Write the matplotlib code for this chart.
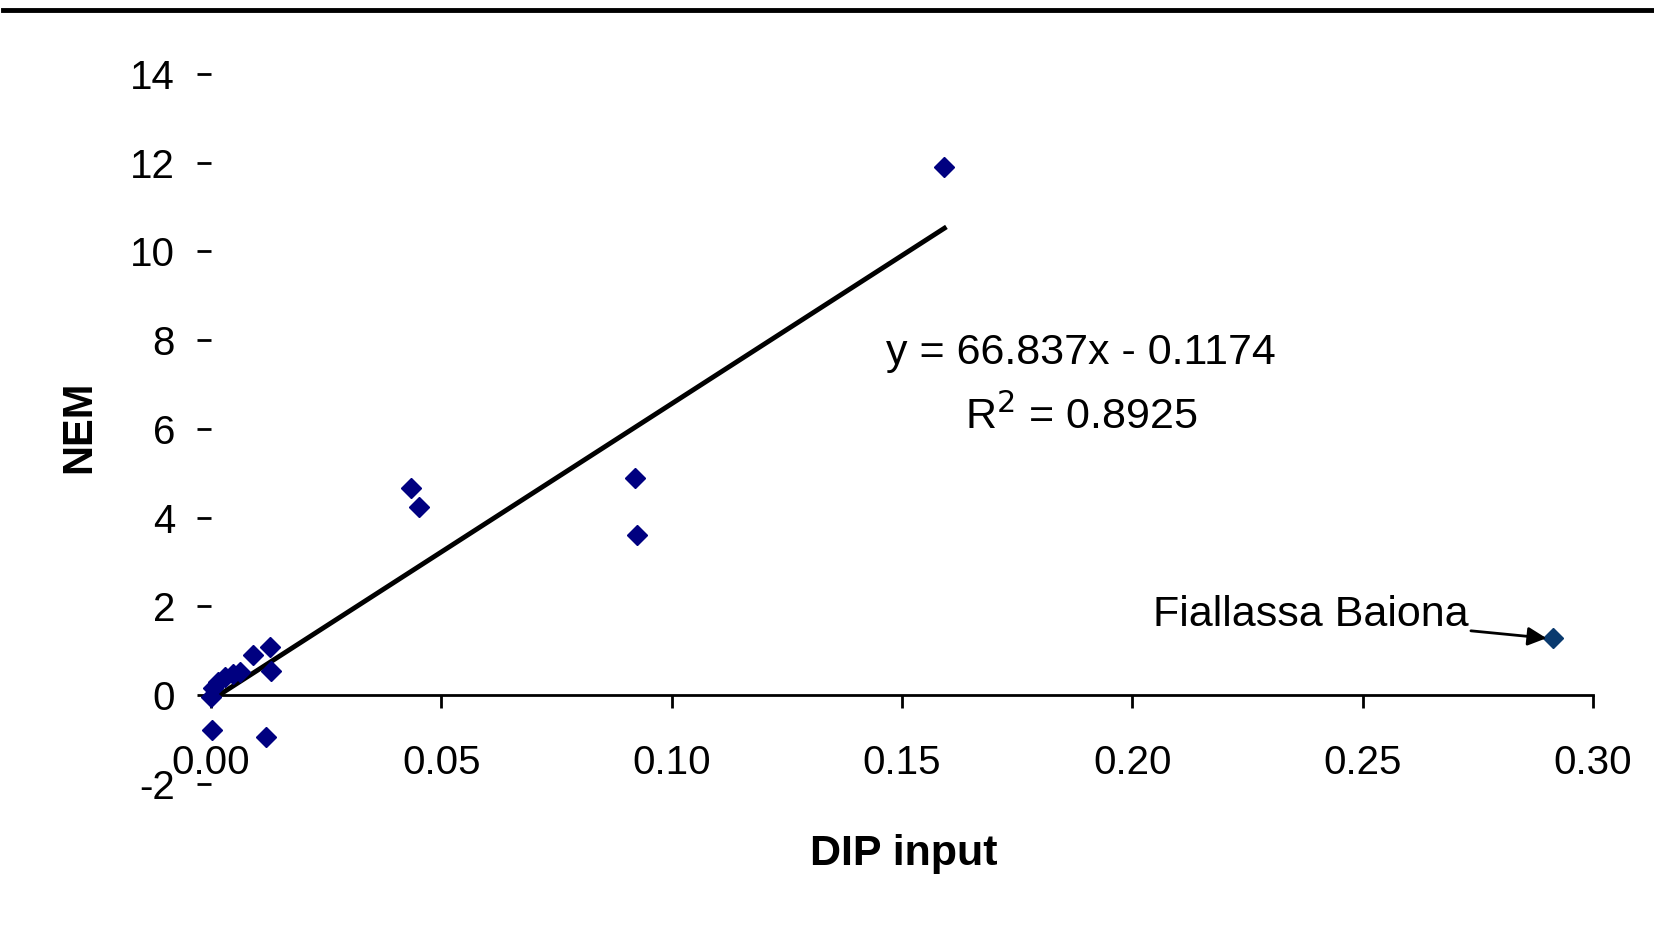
import numpy as np
import matplotlib
matplotlib.use('Agg')
import matplotlib.pyplot as plt
from matplotlib.lines import Line2D

# data
dip_x = [0.0002, 0.0000, 0.0004, 0.0015, 0.0030, 0.0048, 0.0063, 0.0091,
         0.0128, 0.0130, 0.0119, 0.0433, 0.0451, 0.0921, 0.0925, 0.1592]
nem_y = [-0.80, -0.05, 0.16, 0.29, 0.41, 0.47, 0.52, 0.90,
         1.09, 0.53, -0.94, 4.66, 4.23, 4.90, 3.61, 11.91]
outlier_x = [0.2913]
outlier_y = [1.28]
outlier_name = 'Fiallassa Baiona'

slope = 66.837
intercept = -0.1174
r2 = 0.8925

x_ticks = [0.00, 0.05, 0.10, 0.15, 0.20, 0.25, 0.30]
y_ticks = [-2, 0, 2, 4, 6, 8, 10, 12, 14]

matplotlib.rc('font', family=['Liberation Sans', 'DejaVu Sans'], size=29)
matplotlib.rc('axes', unicode_minus=False)

fig = plt.figure(figsize=(16.54, 9.27), dpi=100)
ax = fig.add_axes([0.1276, 0.1546, 0.8355, 0.7656])

ax.plot(dip_x, nem_y, linestyle='none', marker='D', ms=10, color='#000080',
        clip_on=False, zorder=3)
ax.plot(outlier_x, outlier_y, linestyle='none', marker='D', ms=10,
        color='#0a3a6e', clip_on=False, zorder=3)

# linear trendline (without outlier)
tx = np.array([min(dip_x), max(dip_x)])
ax.plot(tx, slope * tx + intercept, color='black', lw=3.5, zorder=2)

ax.text(0.1889, 7.71, 'y = %.3fx - %.4f' % (slope, -intercept),
        ha='center', va='center', fontsize=31)
ax.text(0.1889, 6.27, 'R$^2$ = %.4f' % r2, ha='center', va='center',
        fontsize=31)

ax.annotate(outlier_name, xy=(outlier_x[0] - 0.0014, outlier_y[0]),
            xytext=(0.2729, 1.80), ha='right', va='center', fontsize=31,
            arrowprops=dict(arrowstyle='-|>', color='black', lw=2,
                            mutation_scale=28, shrinkA=0, shrinkB=0))

ax.set_xlim(0, 0.30)
ax.set_ylim(-2, 14)
ax.set_xticks(x_ticks)
ax.set_xticklabels(['%.2f' % v for v in x_ticks])
ax.set_yticks(y_ticks)

ax.spines['top'].set_visible(False)
ax.spines['right'].set_visible(False)
ax.spines['left'].set_visible(False)
ax.spines['bottom'].set_position(('data', 0))
ax.spines['bottom'].set_linewidth(2)
ax.tick_params(axis='x', direction='out', length=9, width=2, pad=26)
ax.tick_params(axis='y', direction='out', length=10, width=2, pad=16)

fig.text(0.0478, 0.5394, 'NEM', rotation=90, ha='center', va='center',
         fontweight='bold', fontsize=30)
fig.text(0.5466, 0.0787, 'DIP input', ha='center', va='center',
         fontweight='bold', fontsize=31)

# rule across the top of the figure
fig.add_artist(Line2D([0.002, 1.0], [0.989, 0.989], color='black', lw=3.5,
                      transform=fig.transFigure))

fig.savefig('out.png', dpi=100)
